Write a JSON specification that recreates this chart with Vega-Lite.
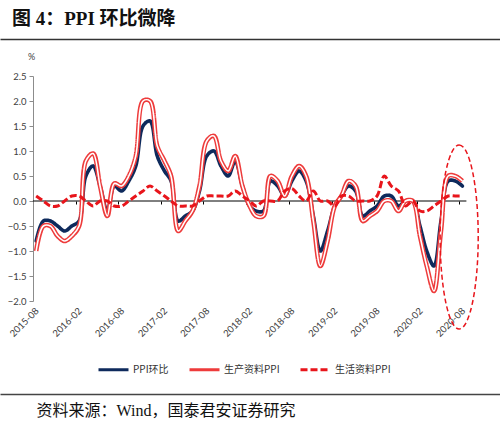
{
  "$schema": "https://vega.github.io/schema/vega-lite/v6.json",
  "width": 500,
  "height": 225,
  "autosize": {"type": "none"},
  "padding": {"left": 0, "top": 76, "right": 0, "bottom": 124},
  "background": "white",
  "title": {
    "text": "图 4：PPI 环比微降",
    "anchor": "start",
    "frame": "group",
    "font": "Liberation Serif, Noto Sans CJK SC",
    "fontSize": 19,
    "fontWeight": "bold",
    "color": "#111111",
    "offset": -9,
    "dx": 12,
    "baseline": "bottom"
  },
  "config": {
    "view": {"stroke": null},
    "axis": {"grid": false},
    "legend": {
      "orient": "none",
      "legendX": 97,
      "legendY": 277,
      "direction": "horizontal",
      "title": null,
      "symbolType": "stroke",
      "symbolSize": 900,
      "symbolStrokeWidth": 3,
      "labelFont": "Noto Sans CJK SC",
      "labelFontSize": 10,
      "labelColor": "#333333",
      "labelOffset": 3,
      "columnPadding": 14,
      "padding": 0
    }
  },
  "data": {
    "values": [
      {"month": "2015-08-15", "ppi": -0.8, "prod": -1.0, "cons": 0.1},
      {"month": "2015-09-15", "ppi": -0.4, "prod": -0.5, "cons": 0.0},
      {"month": "2015-10-15", "ppi": -0.4, "prod": -0.5, "cons": -0.1},
      {"month": "2015-11-15", "ppi": -0.5, "prod": -0.7, "cons": -0.1},
      {"month": "2015-12-15", "ppi": -0.6, "prod": -0.8, "cons": 0.0},
      {"month": "2016-01-15", "ppi": -0.5, "prod": -0.7, "cons": 0.1},
      {"month": "2016-02-15", "ppi": -0.4, "prod": -0.5, "cons": 0.1},
      {"month": "2016-03-15", "ppi": 0.5, "prod": 0.8, "cons": 0.0},
      {"month": "2016-04-15", "ppi": 0.7, "prod": 0.95, "cons": -0.1},
      {"month": "2016-05-15", "ppi": 0.3, "prod": 0.3, "cons": 0.0},
      {"month": "2016-06-15", "ppi": -0.2, "prod": -0.3, "cons": 0.0},
      {"month": "2016-07-15", "ppi": 0.3, "prod": 0.35, "cons": -0.1},
      {"month": "2016-08-15", "ppi": 0.2, "prod": 0.3, "cons": -0.1},
      {"month": "2016-09-15", "ppi": 0.4, "prod": 0.5, "cons": 0.0},
      {"month": "2016-10-15", "ppi": 0.7, "prod": 0.9, "cons": 0.1},
      {"month": "2016-11-15", "ppi": 1.5, "prod": 2.0, "cons": 0.2},
      {"month": "2016-12-15", "ppi": 1.6, "prod": 2.0, "cons": 0.3},
      {"month": "2017-01-15", "ppi": 0.9, "prod": 1.1, "cons": 0.2},
      {"month": "2017-02-15", "ppi": 0.6, "prod": 0.8, "cons": 0.1},
      {"month": "2017-03-15", "ppi": 0.4, "prod": 0.5, "cons": 0.0},
      {"month": "2017-04-15", "ppi": -0.4, "prod": -0.6, "cons": -0.1},
      {"month": "2017-05-15", "ppi": -0.3, "prod": -0.4, "cons": -0.1},
      {"month": "2017-06-15", "ppi": -0.2, "prod": -0.2, "cons": -0.1},
      {"month": "2017-07-15", "ppi": 0.2, "prod": 0.3, "cons": 0.0},
      {"month": "2017-08-15", "ppi": 0.9, "prod": 1.2, "cons": 0.1},
      {"month": "2017-09-15", "ppi": 1.0, "prod": 1.3, "cons": 0.1},
      {"month": "2017-10-15", "ppi": 0.7, "prod": 0.8, "cons": 0.1},
      {"month": "2017-11-15", "ppi": 0.5, "prod": 0.6, "cons": 0.1},
      {"month": "2017-12-15", "ppi": 0.8, "prod": 0.9, "cons": 0.2},
      {"month": "2018-01-15", "ppi": 0.3, "prod": 0.3, "cons": 0.1},
      {"month": "2018-02-15", "ppi": -0.1, "prod": -0.1, "cons": 0.0},
      {"month": "2018-03-15", "ppi": -0.2, "prod": -0.3, "cons": -0.1},
      {"month": "2018-04-15", "ppi": -0.2, "prod": -0.3, "cons": 0.0},
      {"month": "2018-05-15", "ppi": 0.4, "prod": 0.5, "cons": 0.0},
      {"month": "2018-06-15", "ppi": 0.3, "prod": 0.4, "cons": 0.0},
      {"month": "2018-07-15", "ppi": 0.1, "prod": 0.1, "cons": 0.2},
      {"month": "2018-08-15", "ppi": 0.4, "prod": 0.5, "cons": 0.25},
      {"month": "2018-09-15", "ppi": 0.6, "prod": 0.7, "cons": 0.1},
      {"month": "2018-10-15", "ppi": 0.4, "prod": 0.5, "cons": 0.0},
      {"month": "2018-11-15", "ppi": -0.3, "prod": -0.4, "cons": 0.2},
      {"month": "2018-12-15", "ppi": -1.0, "prod": -1.3, "cons": 0.0},
      {"month": "2019-01-15", "ppi": -0.6, "prod": -0.8, "cons": 0.0},
      {"month": "2019-02-15", "ppi": -0.1, "prod": -0.1, "cons": -0.1},
      {"month": "2019-03-15", "ppi": 0.1, "prod": 0.1, "cons": 0.1},
      {"month": "2019-04-15", "ppi": 0.3, "prod": 0.4, "cons": 0.1},
      {"month": "2019-05-15", "ppi": 0.2, "prod": 0.3, "cons": 0.0},
      {"month": "2019-06-15", "ppi": -0.3, "prod": -0.4, "cons": 0.0},
      {"month": "2019-07-15", "ppi": -0.2, "prod": -0.3, "cons": 0.0},
      {"month": "2019-08-15", "ppi": -0.1, "prod": -0.2, "cons": 0.1},
      {"month": "2019-09-15", "ppi": 0.1, "prod": 0.0, "cons": 0.5},
      {"month": "2019-10-15", "ppi": 0.1, "prod": 0.0, "cons": 0.3},
      {"month": "2019-11-15", "ppi": -0.1, "prod": -0.2, "cons": 0.2},
      {"month": "2019-12-15", "ppi": 0.0, "prod": 0.0, "cons": -0.1},
      {"month": "2020-01-15", "ppi": 0.0, "prod": 0.0, "cons": 0.0},
      {"month": "2020-02-15", "ppi": -0.5, "prod": -0.7, "cons": -0.2},
      {"month": "2020-03-15", "ppi": -1.0, "prod": -1.3, "cons": -0.2},
      {"month": "2020-04-15", "ppi": -1.3, "prod": -1.8, "cons": -0.1},
      {"month": "2020-05-15", "ppi": -0.4, "prod": -0.6, "cons": 0.0},
      {"month": "2020-06-15", "ppi": 0.4, "prod": 0.5, "cons": 0.1},
      {"month": "2020-07-15", "ppi": 0.4, "prod": 0.5, "cons": 0.1},
      {"month": "2020-08-15", "ppi": 0.3, "prod": 0.4, "cons": 0.1}
    ]
  },
  "resolve": {"axis": {"x": "independent", "y": "independent"}},
  "layer": [
    {
      "data": {"values": [{}]},
      "mark": {"type": "rule", "color": "#000000", "strokeWidth": 1},
      "encoding": {
        "x": {"datum": {"year": 2015, "month": 8, "date": 1}, "type": "temporal", "axis": null,
              "scale": {"domain": [{"year": 2015, "month": 3, "date": 13}, {"year": 2021, "month": 1, "date": 23}]}},
        "x2": {"datum": {"year": 2020, "month": 9, "date": 1}},
        "y": {"datum": 0, "type": "quantitative", "axis": null,
              "scale": {"domain": [-2, 2.5], "nice": false, "zero": false}}
      }
    },
    {
      "mark": {"type": "line", "interpolate": "catmull-rom", "strokeWidth": 3.6, "strokeCap": "round"},
      "encoding": {
        "x": {"field": "month", "type": "temporal",
              "scale": {"domain": [{"year": 2015, "month": 3, "date": 13}, {"year": 2021, "month": 1, "date": 23}]},
              "axis": {
                "orient": "bottom", "offset": 2, "domain": false, "ticks": false, "grid": false, "title": null,
                "values": [
                  {"year": 2015, "month": 8, "date": 1}, {"year": 2016, "month": 2, "date": 1},
                  {"year": 2016, "month": 8, "date": 1}, {"year": 2017, "month": 2, "date": 1},
                  {"year": 2017, "month": 8, "date": 1}, {"year": 2018, "month": 2, "date": 1},
                  {"year": 2018, "month": 8, "date": 1}, {"year": 2019, "month": 2, "date": 1},
                  {"year": 2019, "month": 8, "date": 1}, {"year": 2020, "month": 2, "date": 1},
                  {"year": 2020, "month": 8, "date": 1}
                ],
                "format": "%Y-%m", "labelAngle": -45, "labelAlign": "right", "labelBaseline": "middle",
                "labelFont": "Lato", "labelFontSize": 9.5, "labelColor": "#404040",
                "labelPadding": 6, "labelOffset": 4, "labelOverlap": false, "labelFlush": false, "labelBound": false
              }},
        "y": {"field": "ppi", "type": "quantitative",
              "scale": {"domain": [-2, 2.5], "nice": false, "zero": false},
              "axis": {
                "orient": "left", "offset": -33, "values": [-2, -1.5, -1, -0.5, 0, 0.5, 1, 1.5, 2, 2.5],
                "format": ".1f", "domainColor": "#8c8c8c", "tickColor": "#8c8c8c", "tickSize": 4,
                "labelFont": "Lato", "labelFontSize": 9.5, "labelColor": "#404040", "labelPadding": 3, "grid": false,
                "title": "%", "titleAngle": 0, "titleX": -2, "titleY": -20, "titleAlign": "center",
                "titleBaseline": "middle", "titleFont": "Lato", "titleFontWeight": "normal", "titleFontSize": 9,
                "titleColor": "#404040"
              }},
        "color": {"datum": "PPI环比",
                  "scale": {"domain": ["PPI环比", "生产资料PPI", "生活资料PPI"], "range": ["#0e2a5c", "#ee3b3b", "#e8151b"]}},
        "strokeDash": {"datum": "PPI环比",
                  "scale": {"domain": ["PPI环比", "生产资料PPI", "生活资料PPI"], "range": [[1, 0], [1, 0], [7, 3]]}}
      }
    },
    {
      "mark": {"type": "line", "interpolate": "catmull-rom", "strokeWidth": 4.6},
      "encoding": {
        "x": {"field": "month", "type": "temporal",
              "scale": {"domain": [{"year": 2015, "month": 3, "date": 13}, {"year": 2021, "month": 1, "date": 23}]},
              "axis": {"orient": "top", "offset": 37, "domain": true, "domainColor": "#333333", "domainWidth": 1.5,
                       "labels": false, "ticks": false, "grid": false, "title": null}},
        "y": {"field": "prod", "type": "quantitative", "axis": null,
              "scale": {"domain": [-2, 2.5], "nice": false, "zero": false}},
        "color": {"datum": "生产资料PPI"},
        "strokeDash": {"datum": "生产资料PPI"}
      }
    },
    {
      "mark": {"type": "line", "interpolate": "catmull-rom", "strokeWidth": 1.6, "color": "white"},
      "encoding": {
        "x": {"field": "month", "type": "temporal",
              "scale": {"domain": [{"year": 2015, "month": 3, "date": 13}, {"year": 2021, "month": 1, "date": 23}]},
              "axis": {"orient": "bottom", "offset": 93, "domain": true, "domainColor": "#444444", "domainWidth": 1.5,
                       "labels": false, "ticks": false, "grid": false,
                       "title": "资料来源：Wind，国泰君安证券研究",
                       "titleAnchor": "start", "titleAlign": "left", "titleBaseline": "top",
                       "titleX": 36, "titleY": 8, "titleFont": "Liberation Serif, Noto Sans CJK SC",
                       "titleFontSize": 16, "titleFontWeight": "normal", "titleColor": "#111111"}},
        "y": {"field": "prod", "type": "quantitative", "axis": null,
              "scale": {"domain": [-2, 2.5], "nice": false, "zero": false}}
      }
    },
    {
      "mark": {"type": "line", "interpolate": "catmull-rom", "strokeWidth": 3},
      "encoding": {
        "x": {"field": "month", "type": "temporal",
              "scale": {"domain": [{"year": 2015, "month": 3, "date": 13}, {"year": 2021, "month": 1, "date": 23}]},
              "axis": {"orient": "bottom", "offset": -100, "domain": false, "labels": false, "ticks": true,
                       "tickSize": 3, "tickColor": "#000000", "grid": false, "title": null,
                       "values": [
                         {"year": 2016, "month": 2, "date": 1}, {"year": 2016, "month": 8, "date": 1},
                         {"year": 2017, "month": 2, "date": 1}, {"year": 2017, "month": 8, "date": 1},
                         {"year": 2018, "month": 2, "date": 1}, {"year": 2018, "month": 8, "date": 1},
                         {"year": 2019, "month": 2, "date": 1}, {"year": 2019, "month": 8, "date": 1},
                         {"year": 2020, "month": 2, "date": 1}, {"year": 2020, "month": 8, "date": 1}
                       ]}},
        "y": {"field": "cons", "type": "quantitative", "axis": null,
              "scale": {"domain": [-2, 2.5], "nice": false, "zero": false}},
        "color": {"datum": "生活资料PPI"},
        "strokeDash": {"datum": "生活资料PPI"}
      }
    },
    {
      "data": {"values": [{}]},
      "mark": {
        "type": "point",
        "shape": "M0,-1C0.114,-1 0.207,-0.552 0.207,0C0.207,0.552 0.114,1 0,1C-0.114,1 -0.207,0.552 -0.207,0C-0.207,-0.552 -0.114,-1 0,-1Z",
        "size": 33856, "filled": false, "stroke": "#e8151b", "strokeWidth": 1.5, "strokeDash": [5, 3], "opacity": 1
      },
      "encoding": {
        "x": {"datum": {"year": 2020, "month": 8, "date": 1}, "type": "temporal", "axis": null,
              "scale": {"domain": [{"year": 2015, "month": 3, "date": 13}, {"year": 2021, "month": 1, "date": 23}]}},
        "y": {"datum": -0.72, "type": "quantitative", "axis": null,
              "scale": {"domain": [-2, 2.5], "nice": false, "zero": false}}
      }
    }
  ]
}
